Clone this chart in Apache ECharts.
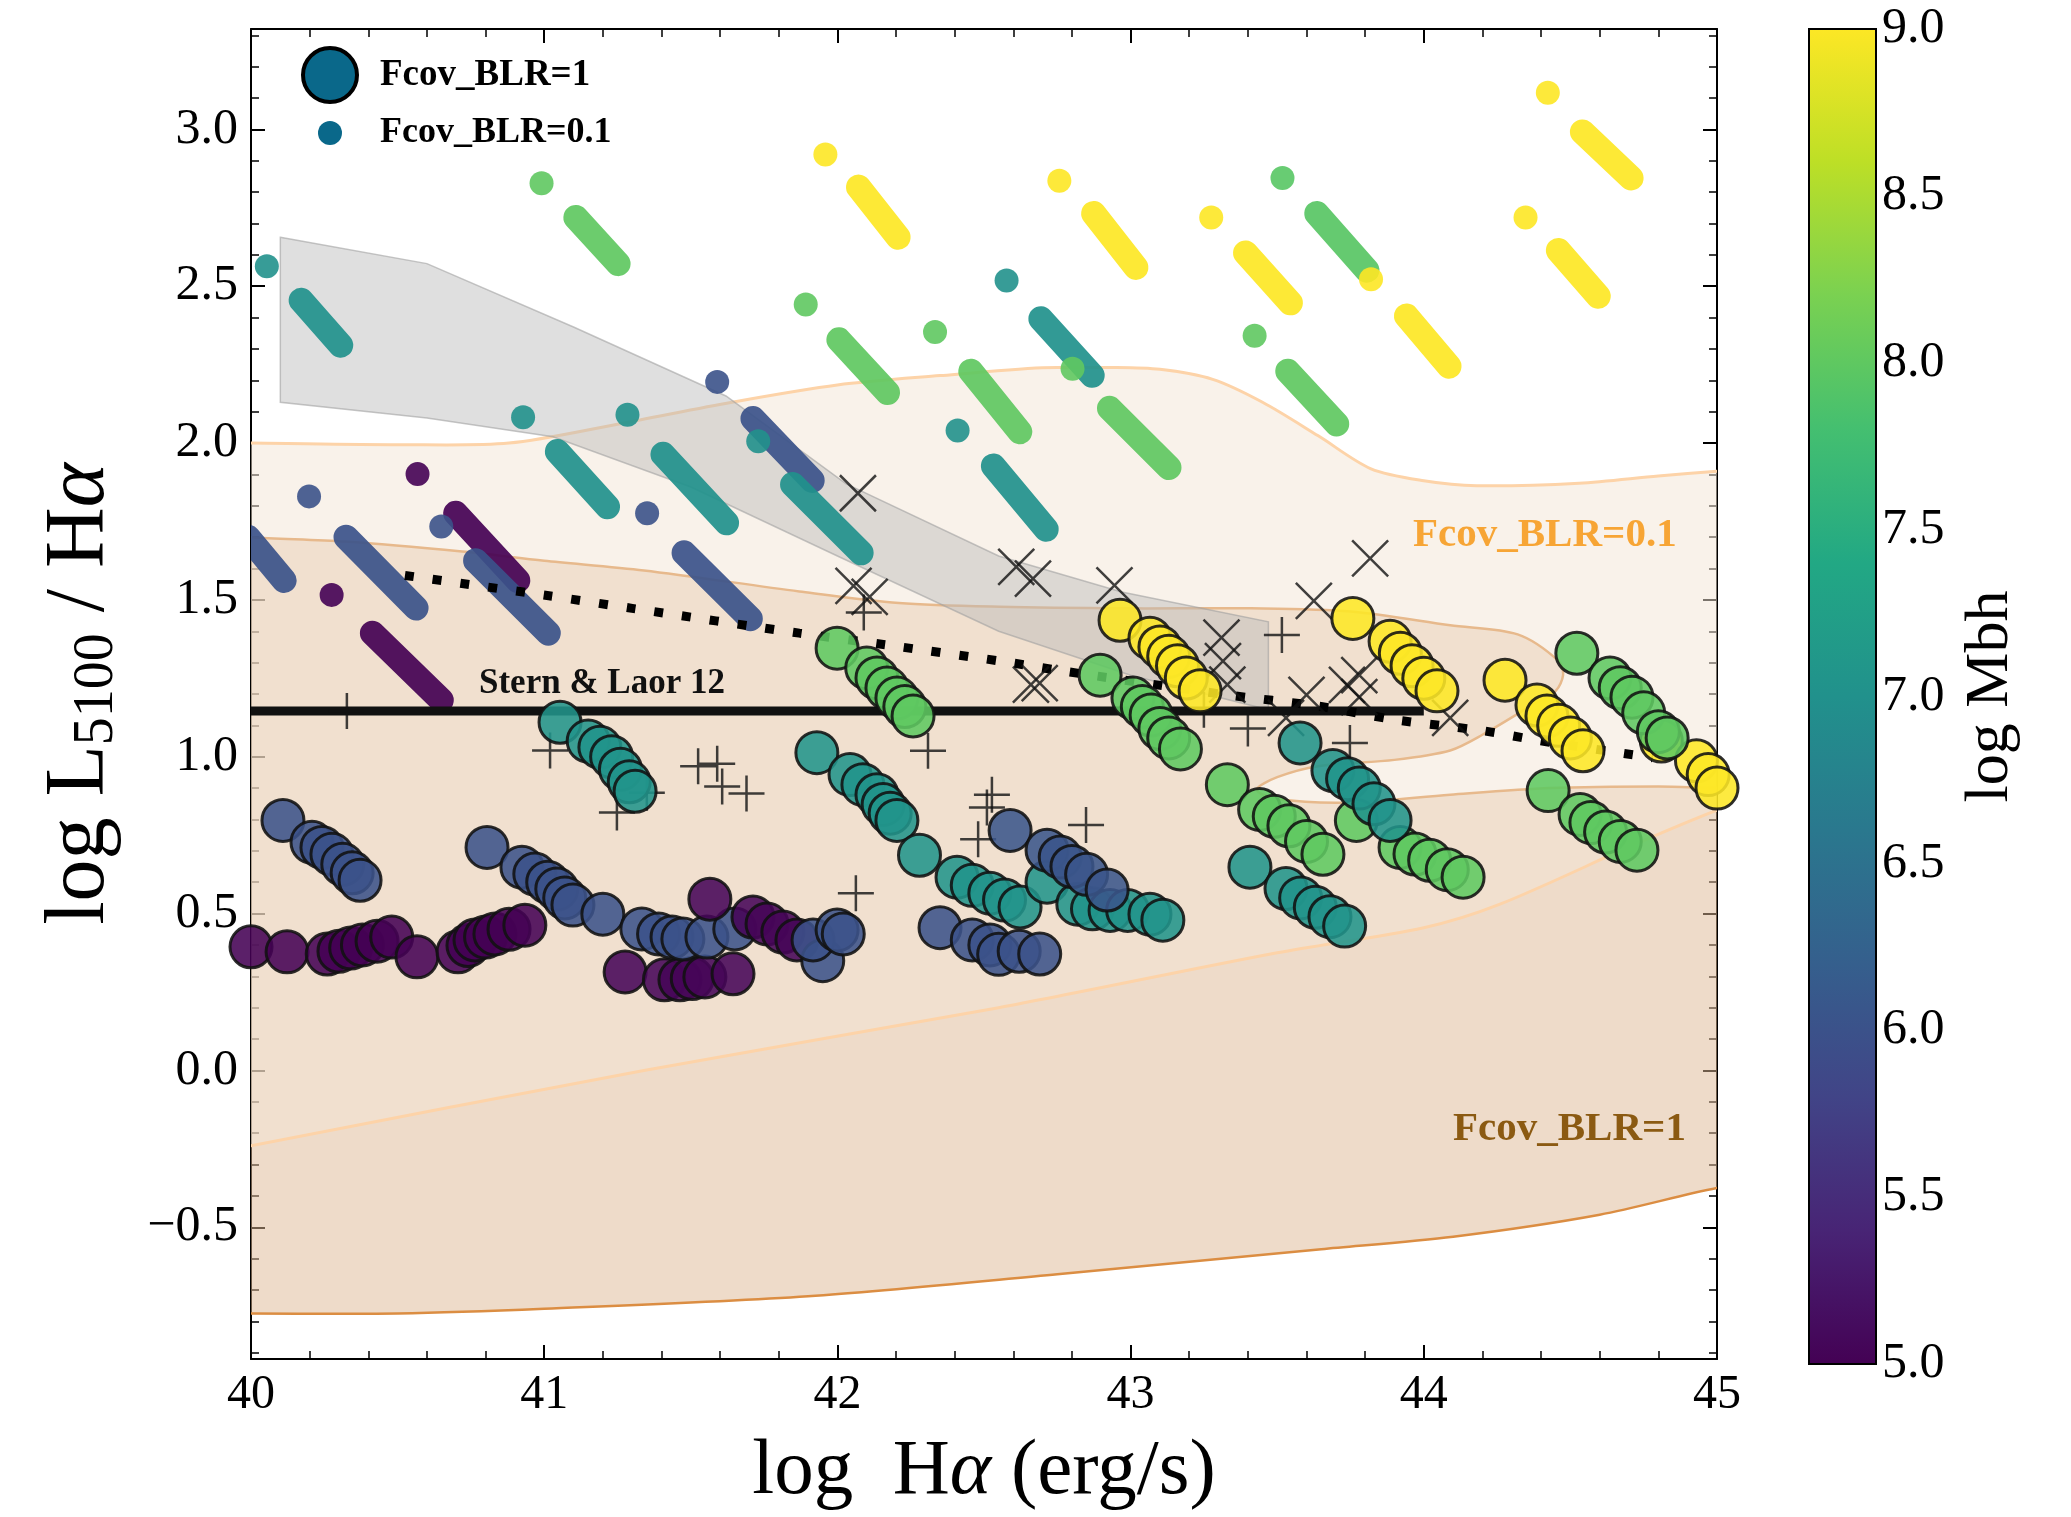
<!DOCTYPE html>
<html><head><meta charset="utf-8">
<script src="https://cdn.jsdelivr.net/npm/echarts@6/dist/echarts.min.js"></script>
<style>html,body{margin:0;padding:0;background:#fff}#c{width:2071px;height:1517px}</style>
</head><body><div id="c"></div>
<script>
// ---------- tick values ----------
const xMajorTicks = [40, 41, 42, 43, 44, 45];
const yMajorTicks = [-0.5, 0.0, 0.5, 1.0, 1.5, 2.0, 2.5, 3.0];
const yMinorTicks = [-0.9,-0.8,-0.7,-0.6,-0.4,-0.3,-0.2,-0.1,0.1,0.2,0.3,0.4,0.6,0.7,0.8,0.9,1.1,1.2,1.3,1.4,1.6,1.7,1.8,1.9,2.1,2.2,2.3,2.4,2.6,2.7,2.8,2.9,3.1,3.2,3.3];
const cbTicks = [5.0, 5.5, 6.0, 6.5, 7.0, 7.5, 8.0, 8.5, 9.0];

// ---------- Fcov_BLR = 0.1 models (small dots) ----------
// first (isolated) point of each track: [log Halpha, log L5100/Halpha, log Mbh]
const smallFirst = [
  [40.054,2.564,7.0],[40.991,2.828,8.0],[41.959,2.92,9.0],[42.757,2.836,9.0],[43.275,2.719,9.0],
  [43.82,2.522,9.0],[43.518,2.845,7.95],[44.423,3.117,9.0],[44.347,2.719,9.0],[42.577,2.518,7.0],
  [42.333,2.354,8.0],[42.802,2.237,8.0],[41.892,2.442,8.0],[43.423,2.342,8.0],[42.41,2.04,7.0],
  [40.928,2.082,7.0],[41.284,2.09,7.0],[41.59,2.195,6.0],[41.73,2.006,7.0],[40.198,1.83,6.0],
  [40.568,1.901,5.0],[40.649,1.734,6.0],[40.275,1.516,5.0],[41.351,1.776,6.0]
];
// dense run of points that follows: [x start, y start, log Mbh, x end, y end]
const smallRuns = [
  [40.171,2.455,7.0,40.306,2.312],[41.108,2.719,8.0,41.252,2.572],[42.072,2.816,9.0,42.207,2.656],
  [42.874,2.732,9.0,43.018,2.56],[43.392,2.606,9.0,43.545,2.447],[43.941,2.405,9.0,44.086,2.245],
  [43.635,2.732,7.95,43.806,2.551],[44.541,2.992,9.0,44.707,2.845],[44.459,2.614,9.0,44.595,2.468],
  [42.694,2.396,7.0,42.869,2.216],[42.455,2.229,8.0,42.622,2.036],[42.928,2.111,8.0,43.131,1.922],
  [42.005,2.329,8.0,42.171,2.161],[43.536,2.229,8.0,43.703,2.061],[42.532,1.927,7.0,42.712,1.725],
  [41.045,1.973,7.0,41.216,1.797],[41.405,1.964,7.0,41.622,1.746],[41.712,2.078,6.0,41.914,1.881],
  [41.847,1.868,7.0,42.081,1.65],[40.324,1.70,6.0,40.563,1.474],[39.99,1.70,6.0,40.113,1.562],
  [40.698,1.776,5.0,40.91,1.562],[40.766,1.625,6.0,41.014,1.394],[40.414,1.394,5.0,40.649,1.18],
  [41.477,1.65,6.0,41.703,1.44]
];

// ---------- Fcov_BLR = 1 models (big circles): [log Halpha, log L5100/Halpha, log Mbh] ----------
const bigCircles = [
  [40.109,0.797,6.0],[40.208,0.727,6.0],[40.242,0.711,6.0],[40.276,0.689,6.0],[40.313,0.657,6.0],[40.345,0.63,6.0],[40.372,0.606,6.0],
  [40.0,0.394,5.0],[40.123,0.378,5.0],[40.26,0.371,5.0],[40.30,0.38,5.0],[40.34,0.39,5.0],[40.38,0.40,5.0],[40.43,0.412,5.0],[40.48,0.425,5.0],
  [40.566,0.362,5.0],[40.706,0.378,5.0],[40.74,0.398,5.0],[40.764,0.416,5.0],[40.80,0.425,5.0],[40.832,0.435,5.0],[40.88,0.45,5.0],[40.934,0.463,5.0],
  [40.805,0.711,6.0],[40.924,0.648,6.0],[40.968,0.626,6.0],[41.012,0.60,6.0],[41.043,0.578,6.0],[41.07,0.55,6.0],[41.098,0.527,6.0],[41.2,0.498,6.0],
  [41.276,0.314,5.05],[41.41,0.289,5.05],[41.463,0.289,5.05],[41.505,0.293,5.05],[41.548,0.298,5.05],[41.644,0.308,5.05],
  [41.333,0.451,6.0],[41.39,0.435,6.0],[41.436,0.425,6.0],[41.473,0.419,6.0],[41.555,0.425,6.0],[41.65,0.451,6.0],
  [41.565,0.546,5.05],[41.712,0.489,5.05],[41.76,0.467,5.05],[41.814,0.441,5.05],[41.862,0.416,5.05],
  [41.95,0.35,6.0],[41.917,0.416,6.0],[41.999,0.448,6.0],[42.02,0.435,6.0],
  [41.054,1.11,7.05],[41.15,1.05,7.05],[41.19,1.03,7.05],[41.23,1.0,7.05],[41.26,0.96,7.05],[41.29,0.92,7.05],[41.31,0.89,7.05],
  [41.999,1.346,8.0],[42.10,1.283,8.0],[42.135,1.251,8.0],[42.169,1.219,8.0],[42.203,1.187,8.0],[42.23,1.16,8.0],[42.258,1.13,8.0],
  [41.93,1.013,7.05],[42.043,0.943,7.05],[42.087,0.911,7.05],[42.135,0.879,7.05],[42.156,0.848,7.05],[42.18,0.82,7.05],[42.203,0.797,7.05],
  [42.28,0.686,7.05],[42.408,0.616,7.05],[42.46,0.59,7.05],[42.52,0.565,7.05],[42.57,0.543,7.05],[42.623,0.521,7.05],
  [42.35,0.455,6.0],[42.46,0.416,6.0],[42.52,0.40,6.0],[42.55,0.37,6.0],[42.62,0.38,6.0],[42.69,0.371,6.0],
  [42.715,0.6,7.05],[42.82,0.53,7.05],[42.87,0.515,7.05],[42.93,0.51,7.05],[42.99,0.51,7.05],[43.066,0.498,7.05],[43.11,0.479,7.05],
  [42.589,0.765,6.05],[42.715,0.702,6.05],[42.76,0.68,6.05],[42.80,0.65,6.05],[42.85,0.625,6.05],[42.92,0.575,6.05],
  [42.896,1.26,8.0],[43.008,1.187,8.0],[43.04,1.16,8.0],[43.07,1.133,8.0],[43.10,1.09,8.0],[43.13,1.06,8.0],[43.17,1.025,8.0],
  [42.964,1.435,9.0],[43.066,1.378,9.0],[43.10,1.35,9.0],[43.13,1.32,9.0],[43.16,1.29,9.0],[43.19,1.251,9.0],[43.237,1.21,9.0],
  [43.33,0.911,8.0],[43.44,0.832,8.0],[43.49,0.81,8.0],[43.54,0.78,8.0],[43.60,0.73,8.0],[43.656,0.689,8.0],
  [43.407,0.648,7.05],[43.53,0.58,7.05],[43.58,0.55,7.05],[43.63,0.52,7.05],[43.68,0.49,7.05],[43.73,0.46,7.05],
  [43.77,0.797,8.0],[43.919,0.711,8.0],[43.97,0.69,8.0],[44.02,0.67,8.0],[44.08,0.64,8.0],[44.134,0.616,8.0],
  [43.578,1.044,7.05],[43.69,0.956,7.05],[43.74,0.93,7.05],[43.78,0.90,7.05],[43.83,0.85,7.05],[43.885,0.797,7.05],
  [43.758,1.441,9.0],[43.885,1.368,9.0],[43.92,1.33,9.0],[43.96,1.29,9.0],[44.0,1.25,9.0],[44.045,1.21,9.0],
  [44.277,1.244,9.0],[44.386,1.165,9.0],[44.42,1.13,9.0],[44.46,1.10,9.0],[44.50,1.06,9.0],[44.543,1.019,9.0],
  [44.81,1.05,9.0],[44.93,0.987,9.0],[44.97,0.943,9.0],[45.0,0.9,9.0],
  [44.522,1.33,8.0],[44.635,1.251,8.0],[44.67,1.22,8.0],[44.71,1.19,8.0],[44.75,1.14,8.0],[44.80,1.08,8.0],[44.83,1.06,8.0],
  [44.424,0.892,8.0],[44.533,0.816,8.0],[44.57,0.79,8.0],[44.62,0.76,8.0],[44.67,0.73,8.0],[44.727,0.702,8.0]
];

// ---------- observed objects ----------
const plusPoints = [
  [40.327,1.146],[41.02,1.02],[41.248,0.822],[41.35,0.885],[41.525,0.97],[41.59,0.978],[41.607,0.905],[41.69,0.883],
  [42.063,0.565],[42.09,1.46],[42.309,1.019],[42.527,0.879],[42.51,0.838],[42.48,0.737],[42.848,0.782],
  [43.516,1.388],[43.25,1.15],[43.4,1.09],[43.748,1.044]
];
const crossPoints = [
  [42.07,1.84],[42.055,1.545],[42.11,1.51],[42.61,1.605],[42.667,1.568],[42.945,1.546],[42.66,1.23],[42.69,1.235],
  [43.817,1.632],[43.625,1.497],[43.31,1.38],[43.315,1.305],[43.33,1.23],[43.53,1.124],[43.6,1.197],[43.738,1.229],
  [43.78,1.26],[43.78,1.19],[44.09,1.124]
];

// ---------- lines ----------
const sternLaor = [[40.0,1.146],[44.0,1.146]];
const dottedCurve = [[40.525,1.578],[41.01,1.514],[41.30,1.473],[41.87,1.394],[42.17,1.356],[42.555,1.305],[42.75,1.276],
  [43.33,1.197],[43.636,1.162],[43.91,1.117],[44.2,1.083],[44.396,1.051],[44.78,0.997]];

// ---------- shaded regions ----------
const grayBand = [[40.1,2.656],[40.6,2.572],[41.1,2.37],[41.62,2.15],[42.03,1.87],[42.55,1.64],[42.97,1.525],[43.47,1.43],
  [43.47,1.15],[43.0,1.26],[42.55,1.40],[42.0,1.64],[41.5,1.86],[41.03,2.02],[40.6,2.08],[40.1,2.13]];
const fcov01Region = [[39.9,2.0],[40.0,2.0],[40.5,1.995],[40.88,2.0],[41.25,2.06],[41.64,2.13],[42.0,2.185],[42.35,2.215],
  [42.7,2.24],[42.93,2.241],[43.1,2.235],[43.28,2.203],[43.45,2.13],[43.64,2.023],[43.82,1.918],[44.0,1.88],[44.18,1.864],
  [44.53,1.872],[44.8,1.895],[45.0,1.91],[45.1,1.915],
  [45.1,0.86],[45.0,0.83],[44.73,0.725],[44.26,0.53],[44.0,0.455],[43.5,0.375],[42.55,0.2],[41.34,0.0],[40.0,-0.24],[39.9,-0.26]];
const fcov1Region = [[39.9,1.71],[40.0,1.70],[40.32,1.686],[40.72,1.654],[41.0,1.625],[41.34,1.594],[41.87,1.527],[42.21,1.49],
  [42.555,1.478],[43.0,1.473],[43.41,1.473],[43.75,1.463],[44.09,1.419],[44.32,1.39],[44.46,1.305],[44.475,1.26],[44.45,1.21],
  [44.37,1.165],[44.2,1.07],[44.09,1.02],[43.9,0.99],[43.64,0.97],[43.5,0.935],[43.43,0.895],[43.5,0.865],[43.75,0.854],
  [44.09,0.879],[44.43,0.9],[44.8,0.905],[45.0,0.9],[45.1,0.9],
  [45.1,-0.37],[45.0,-0.375],[44.6,-0.46],[44.1,-0.53],[43.65,-0.57],[42.75,-0.65],[41.9,-0.72],[41.0,-0.76],[40.5,-0.775],[40.0,-0.775],[39.9,-0.775]];

const viridis = ['#440154','#482475','#414487','#355f8d','#2a788e','#21918c','#22a884','#44bf70','#7ad151','#bddf26','#fde725'];

const FONT = '"Liberation Serif", "DejaVu Serif", serif';

function polySeries(name, pts, fill, stroke, lw, z, smooth) {
  return {
    type: 'custom', name: name, clip: true, z: z, silent: true, xAxisIndex: 0, yAxisIndex: 0,
    data: [[40, 0]],
    renderItem: function (params, api) {
      return {
        type: 'polygon',
        shape: { points: pts.map(function (p) { return api.coord(p); }), smooth: smooth },
        style: { fill: fill, stroke: stroke, lineWidth: lw }
      };
    }
  };
}

const axisLineStyle = { color: '#000', width: 2 };
const majorTick = { inside: true, length: 14, lineStyle: { color: '#000', width: 2 } };
const minorTickStyle = { show: true, splitNumber: 5, length: 8, lineStyle: { color: '#000', width: 1.5 } };

const chart = echarts.init(document.getElementById('c'), null, { renderer: 'canvas' });
chart.setOption({
  animation: false,
  backgroundColor: '#fff',
  grid: [
    { left: 251, top: 29, width: 1466, height: 1335 },
    { left: 1809, top: 29, width: 67, height: 1335 }
  ],
  xAxis: [
    { gridIndex: 0, type: 'value', min: 40, max: 45, interval: 1, position: 'bottom',
      axisLine: { show: true, onZero: false, lineStyle: axisLineStyle }, axisTick: majorTick, minorTick: minorTickStyle, splitLine: { show: false },
      axisLabel: { fontFamily: FONT, fontSize: 48, color: '#000', margin: 12 },
      name: '{n|log  H}{a|α}{n| (erg/s)}', nameLocation: 'middle', nameGap: 74,
      nameTextStyle: { rich: { n: { fontFamily: FONT, fontSize: 79, color: '#000' }, a: { fontFamily: FONT, fontSize: 79, fontStyle: 'italic', color: '#000' } } } },
    { gridIndex: 0, type: 'value', min: 40, max: 45, interval: 1, position: 'top',
      axisLine: { show: true, onZero: false, lineStyle: axisLineStyle }, axisTick: majorTick, minorTick: minorTickStyle, splitLine: { show: false },
      axisLabel: { show: false } },
    { gridIndex: 1, type: 'value', min: 0, max: 1, show: false }
  ],
  yAxis: [
    { gridIndex: 0, type: 'value', min: -0.92, max: 3.32, position: 'left',
      axisLine: { show: true, onZero: false, lineStyle: axisLineStyle },
      axisTick: { inside: true, length: 14, lineStyle: { color: '#000', width: 2 }, customValues: yMajorTicks },
      splitLine: { show: false },
      axisLabel: { customValues: yMajorTicks, fontFamily: FONT, fontSize: 50, color: '#000', margin: 13,
        formatter: function (v) { return (v < 0 ? '\u2212' : '') + Math.abs(v).toFixed(1); } },
      name: '{n|log L}{s|5100}{n| / H}{a|α}', nameLocation: 'middle', nameGap: 126, nameRotate: 90,
      nameTextStyle: { rich: { n: { fontFamily: FONT, fontSize: 84, color: '#000' }, s: { fontFamily: FONT, fontSize: 56, color: '#000', padding: [32, 0, 0, 0] }, a: { fontFamily: FONT, fontSize: 84, fontStyle: 'italic', color: '#000' } } } },
    { gridIndex: 0, type: 'value', min: -0.92, max: 3.32, position: 'left',
      axisLine: { show: false, onZero: false }, axisTick: { inside: true, length: 8, lineStyle: { color: '#000', width: 1.5 }, customValues: yMinorTicks },
      splitLine: { show: false }, axisLabel: { show: false } },
    { gridIndex: 0, type: 'value', min: -0.92, max: 3.32, position: 'right',
      axisLine: { show: true, onZero: false, lineStyle: axisLineStyle },
      axisTick: { inside: true, length: 14, lineStyle: { color: '#000', width: 2 }, customValues: yMajorTicks },
      splitLine: { show: false }, axisLabel: { show: false } },
    { gridIndex: 0, type: 'value', min: -0.92, max: 3.32, position: 'right',
      axisLine: { show: false, onZero: false }, axisTick: { inside: true, length: 8, lineStyle: { color: '#000', width: 1.5 }, customValues: yMinorTicks },
      splitLine: { show: false }, axisLabel: { show: false } },
    { gridIndex: 1, type: 'value', min: 5, max: 9, interval: 0.5, position: 'right',
      axisLine: { show: true, onZero: false, lineStyle: { color: '#000', width: 2 } },
      axisTick: { inside: true, length: 12, lineStyle: { color: '#000', width: 2 } },
      minorTick: { show: true, splitNumber: 5, length: 6, lineStyle: { color: '#000', width: 1.2 } },
      splitLine: { show: false },
      axisLabel: { fontFamily: FONT, fontSize: 50, color: '#000', margin: 6, formatter: function (v) { return v.toFixed(1); } },
      name: 'log Mbh', nameLocation: 'middle', nameRotate: 90, nameGap: 84,
      nameTextStyle: { fontFamily: FONT, fontSize: 62, color: '#000' } }
  ],
  visualMap: {
    type: 'continuous', show: false, dimension: 2, min: 5, max: 9, seriesIndex: [3, 4, 9],
    inRange: { color: viridis }
  },
  graphic: [
    { type: 'circle', shape: { cx: 330, cy: 75, r: 27 }, style: { fill: '#0a688a', stroke: '#000', lineWidth: 4 }, z: 100 },
    { type: 'text', x: 380, y: 75, style: { text: 'Fcov_BLR=1', font: 'bold 37px ' + FONT, fill: '#000', textVerticalAlign: 'middle', verticalAlign: 'middle' }, z: 100 },
    { type: 'circle', shape: { cx: 330, cy: 133, r: 12 }, style: { fill: '#0a688a' }, z: 100 },
    { type: 'text', x: 380, y: 133, style: { text: 'Fcov_BLR=0.1', font: 'bold 36px ' + FONT, fill: '#000', textVerticalAlign: 'middle', verticalAlign: 'middle' }, z: 100 },
    { type: 'text', x: 479, y: 684, style: { text: 'Stern & Laor 12', font: 'bold 35px ' + FONT, fill: '#111', textVerticalAlign: 'middle', verticalAlign: 'middle' }, z: 100 },
    { type: 'text', x: 1413, y: 535, style: { text: 'Fcov_BLR=0.1', font: 'bold 41px ' + FONT, fill: '#f7a535', textVerticalAlign: 'middle', verticalAlign: 'middle' }, z: 100 },
    { type: 'text', x: 1453, y: 1129, style: { text: 'Fcov_BLR=1', font: 'bold 41px ' + FONT, fill: '#8b5a12', textVerticalAlign: 'middle', verticalAlign: 'middle' }, z: 100 }
  ],
  series: [
    polySeries('Fcov_BLR=1 region', fcov1Region, 'rgba(222,184,148,0.5)', '#db8d42', 2.5, 1, 0.3),
    polySeries('Fcov_BLR=0.1 region', fcov01Region, 'rgba(244,230,214,0.5)', '#fdd3a8', 3, 2, 0.3),
    polySeries('gray band', grayBand, 'rgba(185,185,185,0.45)', 'rgba(160,160,160,0.6)', 1.5, 3, 0),
    { type: 'scatter', name: 'Fcov_BLR=0.1', data: smallFirst, symbol: 'circle', symbolSize: 24, z: 4,
      itemStyle: { opacity: 0.9, borderWidth: 0 } },
    { type: 'custom', name: 'Fcov_BLR=0.1 runs', data: smallRuns, z: 4, clip: true,
      dimensions: ['x0', 'y0', 'mbh', 'x1', 'y1'], encode: { x: [0, 3], y: [1, 4] },
      renderItem: function (params, api) {
        const p0 = api.coord([api.value(0), api.value(1)]);
        const p1 = api.coord([api.value(3), api.value(4)]);
        return { type: 'line', shape: { x1: p0[0], y1: p0[1], x2: p1[0], y2: p1[1] },
          style: { stroke: api.visual('color'), lineWidth: 25, lineCap: 'round', opacity: 0.92 } };
      } },
    { type: 'line', name: 'Stern & Laor 12', data: sternLaor, symbol: 'none', z: 5,
      lineStyle: { color: '#111', width: 9 } },
    { type: 'line', name: 'dotted', data: dottedCurve, symbol: 'none', smooth: 0.3, z: 5,
      lineStyle: { color: '#000', width: 9, type: [9, 19], cap: 'butt' } },
    { type: 'scatter', name: 'plus', data: plusPoints, symbol: 'path://M10,0L10,20M0,10L20,10', symbolSize: 36, z: 6,
      itemStyle: { color: 'rgba(0,0,0,0)', borderColor: '#111', borderWidth: 2.5 } },
    { type: 'scatter', name: 'cross', data: crossPoints, symbol: 'path://M0,0L20,20M20,0L0,20', symbolSize: 36, z: 6,
      itemStyle: { color: 'rgba(0,0,0,0)', borderColor: '#111', borderWidth: 2.5 } },
    { type: 'scatter', name: 'Fcov_BLR=1', data: bigCircles, symbol: 'circle', symbolSize: 42, z: 7,
      itemStyle: { opacity: 0.88, borderColor: '#111', borderWidth: 3 } },
    { type: 'custom', name: 'colorbar', xAxisIndex: 2, yAxisIndex: 4, data: [[0, 5]], silent: true, z: 1,
      renderItem: function (params, api) {
        const a = api.coord([0, 9]); const b = api.coord([1, 5]);
        const stops = viridis.slice().reverse().map(function (c, i, arr) { return { offset: i / (arr.length - 1), color: c }; });
        return { type: 'rect', shape: { x: a[0], y: a[1], width: b[0] - a[0], height: b[1] - a[1] },
          style: { fill: new echarts.graphic.LinearGradient(0, 0, 0, 1, stops), stroke: '#000', lineWidth: 2 } };
      } }
  ]
});
</script></body></html>
